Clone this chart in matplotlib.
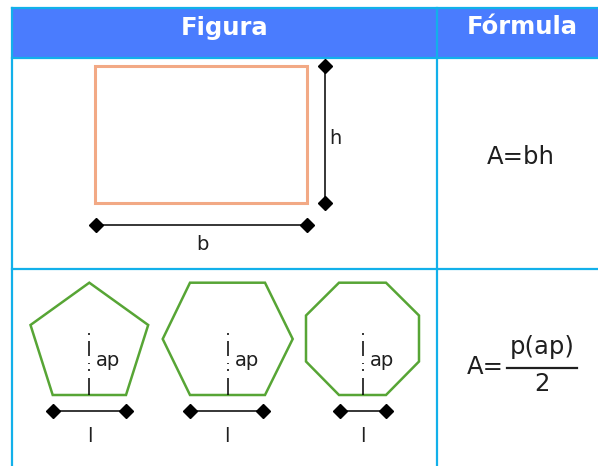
import matplotlib
matplotlib.use("Agg")
import matplotlib.pyplot as plt
import numpy as np
from matplotlib.patches import Rectangle, Polygon

# ---- content ----
headers = ["Figura", "Fórmula"]
header_x = [225, 522]
formula_row1 = "A=bh"
formula_row2_num = "p(ap)"
formula_row2_den = "2"
dim_labels_rect = ["b", "h"]
poly_sides = [5, 6, 8]
poly_labels = ["ap", "ap", "ap"]
side_labels = ["l", "l", "l"]

# ---- geometry (pixel space) ----
W, H = 598, 466
table_left, table_top, header_bottom, row_div, col_div = 12, 8, 58, 268.5, 437
rect_box = (94.5, 66, 306.5, 202.5)  # x0, y0, x1, y1

pent = [(89.3, 282.7), (148.2, 325), (126, 395), (52.7, 395), (30.5, 325)]
hexa = [(190, 282.7), (265, 282.7), (292.7, 339), (265, 395), (190, 395), (162.7, 339)]
octa = [(339, 282.7), (386, 282.7), (419, 315.5), (419, 361.5), (386, 395),
        (339, 395), (306, 361.5), (306, 315.5)]
polys = [pent, hexa, octa]
apo_x = [89.3, 227.5, 362.5]
apo_segments = [(333, 334.5), (341, 356), (362.5, 364), (369, 370.5), (378, 395)]
side_ends = [(53, 126), (190, 263), (340, 386)]

header_color = "#4A7CFE"
border_color = "#12B0EA"
rect_color = "#F2A985"
poly_color = "#57A535"
ink = "#1f1f1f"
font_body = ["DejaVu Sans"]
font_head = ["DejaVu Sans"]

fig = plt.figure(figsize=(W / 100, H / 100), dpi=100)
ax = fig.add_axes([0, 0, 1, 1])
ax.set_xlim(0, W)
ax.set_ylim(H, 0)
ax.axis("off")

# header
ax.add_patch(Rectangle((table_left, table_top), W - table_left + 5, header_bottom - table_top,
                       facecolor=header_color, edgecolor="none", zorder=1))
for t, x in zip(headers, header_x):
    ax.text(x, 27.5, t, color="white", fontsize=17.5, fontweight="bold", family=font_head,
            ha="center", va="center", zorder=3)

# borders
lw_b = 1.6
ax.plot([table_left, W + 5], [table_top, table_top], color=border_color, lw=lw_b, zorder=2)
ax.plot([table_left, W + 5], [header_bottom, header_bottom], color=border_color, lw=lw_b, zorder=2)
ax.plot([table_left, W + 5], [row_div, row_div], color=border_color, lw=lw_b, zorder=2)
ax.plot([table_left, table_left], [table_top, H + 5], color=border_color, lw=lw_b, zorder=2)
ax.plot([col_div, col_div], [table_top, H + 5], color=border_color, lw=lw_b, zorder=2)

# rectangle
x0, y0, x1, y1 = rect_box
ax.add_patch(Rectangle((x0, y0), x1 - x0, y1 - y0, facecolor="none", edgecolor=rect_color, lw=2.2, zorder=3))
ms = 7
ax.plot([95.7, 307], [225, 225], color="black", lw=1.1, marker="D", ms=ms, zorder=4)
ax.plot([325, 325], [66, 202.7], color="black", lw=1.1, marker="D", ms=ms, zorder=4)
ax.text(202.7, 245, dim_labels_rect[0], fontsize=14, family=font_body, color=ink, ha="center", va="center")
ax.text(329, 138, dim_labels_rect[1], fontsize=14, family=font_body, color=ink, ha="left", va="center")

# formula row 1
ax.text(521, 157, formula_row1, fontsize=17.5, family=font_body, color=ink, ha="center", va="center")

# polygons
for verts, ax_x, (sa, sb), lab, slab in zip(polys, apo_x, side_ends, poly_labels, side_labels):
    ax.add_patch(Polygon(verts, closed=True, facecolor="none", edgecolor=poly_color, lw=1.8, zorder=3))
    for a, b in apo_segments:
        ax.plot([ax_x, ax_x], [a, b], color="black", lw=1.1, solid_capstyle="butt", zorder=4)
    ax.text(ax_x + 7, 360, lab, fontsize=14, family=font_body, color=ink, ha="left", va="center")
    ax.plot([sa, sb], [410.7, 410.7], color="black", lw=1.1, marker="D", ms=ms, zorder=4)
    ax.text((sa + sb) / 2, 437, slab, fontsize=14, family=font_body, color=ink, ha="center", va="center")

# formula row 2
ax.text(467, 367, "A=", fontsize=17.5, family=font_body, color=ink, ha="left", va="center")
ax.plot([507, 577], [367.7, 367.7], color=ink, lw=1.6)
ax.text(542, 347, formula_row2_num, fontsize=17.5, family=font_body, color=ink, ha="center", va="center")
ax.text(542, 384, formula_row2_den, fontsize=17.5, family=font_body, color=ink, ha="center", va="center")

fig.savefig("out.png", dpi=100)
